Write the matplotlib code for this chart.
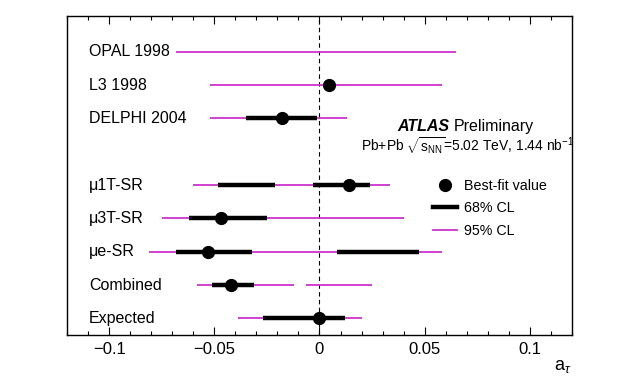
import matplotlib
matplotlib.use('Agg')
import matplotlib.pyplot as plt
from matplotlib.lines import Line2D
from matplotlib.ticker import MultipleLocator, FuncFormatter

plt.rcParams['font.family'] = ['Liberation Sans', 'DejaVu Sans']
plt.rcParams['mathtext.fontset'] = 'custom'
plt.rcParams['mathtext.rm'] = 'Liberation Sans'
plt.rcParams['mathtext.it'] = 'Liberation Sans:italic'

# rows from top to bottom (None = empty row)
labels = ['OPAL 1998', 'L3 1998', 'DELPHI 2004', None,
          'μ1T-SR', 'μ3T-SR', 'μe-SR', 'Combined', 'Expected']
best_fit = [None, 0.0043, -0.018, None, 0.0142, -0.047, -0.053, -0.042, 0.0]
cl68 = [[], [], [(-0.035, -0.001)], [],
        [(-0.048, -0.021), (-0.003, 0.0242)],
        [(-0.062, -0.025)],
        [(-0.068, -0.032), (0.0083, 0.0473)],
        [(-0.051, -0.031)],
        [(-0.0267, 0.0123)]]
cl95 = [[(-0.068, 0.065)], [(-0.052, 0.058)], [(-0.052, 0.013)], [],
        [(-0.060, 0.0333)],
        [(-0.075, 0.040)],
        [(-0.081, 0.058)],
        [(-0.058, -0.012), (-0.0064, 0.025)],
        [(-0.0387, 0.0202)]]

magenta = '#cc33cc'

fig = plt.figure(figsize=(6.4, 3.84), dpi=100)
ax = fig.add_axes([0.1047, 0.1276, 0.789, 0.8307])

n = len(labels)
for i, lab in enumerate(labels):
    y = n - 1 - i
    for lo, hi in cl95[i]:
        ax.plot([lo, hi], [y, y], color=magenta, lw=1.3, solid_capstyle='butt', zorder=2)
    for lo, hi in cl68[i]:
        ax.plot([lo, hi], [y, y], color='black', lw=3.2, solid_capstyle='butt', zorder=3)
    if best_fit[i] is not None:
        ax.plot(best_fit[i], y, 'o', color='black', ms=8.5, zorder=4)
    if lab is not None:
        ax.text(0.0436, y, lab, transform=ax.get_yaxis_transform(),
                ha='left', va='center', fontsize=11.5)

ax.axvline(0, color='black', lw=0.8, ls=(0, (4, 3)), zorder=1)

ax.set_xlim(-0.12, 0.12)
ax.set_ylim(-0.5, n - 1 + 1.07)
ax.set_yticks([])
ax.xaxis.set_major_locator(MultipleLocator(0.05))
ax.xaxis.set_minor_locator(MultipleLocator(0.01))
ax.xaxis.set_major_formatter(FuncFormatter(
    lambda v, p: '0' if abs(v) < 1e-9 else ('%g' % v).replace('-', '\u2212')))
ax.tick_params(axis='x', which='both', direction='in', top=True, labelsize=12, pad=5)
ax.tick_params(axis='x', which='major', length=6, width=0.8)
ax.tick_params(axis='x', which='minor', length=3, width=0.8)
for s in ax.spines.values():
    s.set_linewidth(1.0)

ax.text(1.0, -0.1, r'a$_{\tau}$', transform=ax.transAxes, ha='right', va='center', fontsize=13)

ax.text(0.655, 0.653, 'ATLAS', transform=ax.transAxes, fontsize=11.5,
        fontweight='bold', style='italic', ha='left', va='center')
ax.text(0.766, 0.653, 'Preliminary', transform=ax.transAxes, fontsize=11.5,
        ha='left', va='center')
ax.text(0.583, 0.59, r'Pb+Pb $\sqrt{\mathrm{s}_{\mathrm{NN}}}$=5.02 TeV, 1.44 nb$^{-1}$',
        transform=ax.transAxes, fontsize=10, ha='left', va='center')

handles = [Line2D([], [], ls='none', marker='o', color='black', ms=8.5),
           Line2D([], [], color='black', lw=3.2),
           Line2D([], [], color=magenta, lw=1.3)]
ax.legend(handles, ['Best-fit value', '68% CL', '95% CL'], loc='upper left',
          bbox_to_anchor=(0.71, 0.513), frameon=False, fontsize=10.3,
          handlelength=1.7, handletextpad=0.5, labelspacing=0.6, borderpad=0)

fig.savefig('out.png', dpi=100)
